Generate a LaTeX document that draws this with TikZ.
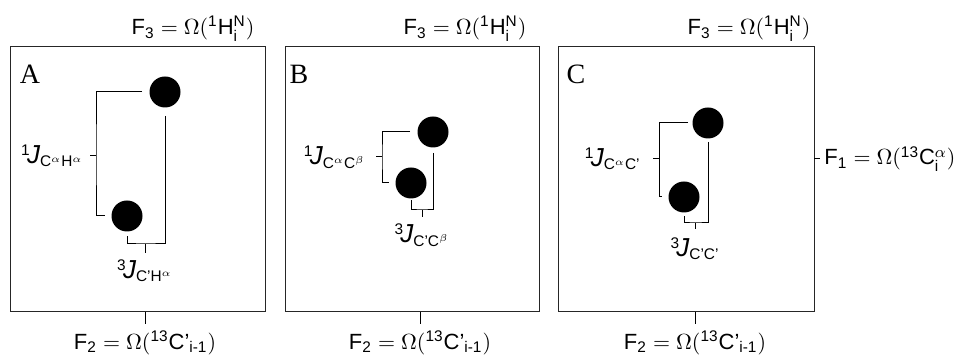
\documentclass[tikz,border=0pt]{standalone}
\usepackage{amsmath}
\usepackage{fontspec}
\setmainfont{Liberation Sans}
\newfontfamily\panelfont{Liberation Serif}
\usepackage{tikz}
\usetikzlibrary{positioning, calc}

\newcommand{\bigJ}{\text{\fontsize{13}{15}\selectfont\itshape J}}

\begin{document}
\begin{tikzpicture}[x=0.5pt, y=-0.5pt,
    panel/.style={draw=black!85, line width=0.5pt},
    peak/.style={circle, fill=black, inner sep=0pt, minimum size=15.5pt},
    link/.style={line width=0.5pt},
    axislabel/.style={font=\fontsize{11}{13}\selectfont, inner sep=1pt},
    jlabel/.style={font=\fontsize{11}{13}\selectfont, inner sep=1pt},
    letter/.style={font=\panelfont\fontsize{14}{16}\selectfont, inner sep=0pt}]
  \useasboundingbox (0,0) rectangle (956,356);

  % panel A
  \draw[panel] (10,47) rectangle (265,312);
  \node[letter] (letA) at (30,74) {A};
  \node[axislabel] (f3A) at (193,29) {$\mathrm{F}_{\mathrm{3}} = \Omega(^{\mathrm{1}}\mathrm{H}^{\mathrm{N}}_{\mathrm{i}})$};
  \draw[link] (145,312) -- (145,324) coordinate (f2tA);
  \node[axislabel, below=2pt of f2tA] (f2A) {$\mathrm{F}_{\mathrm{2}} = \Omega(^{\mathrm{13}}\mathrm{C}\text{'}_{\mathrm{i}\text{-}\mathrm{1}})$};
  \node[peak] (a1) at (165,92) {};
  \node[peak] (a2) at (127,216) {};
  \draw[link] ($(a1.west)+(-7,0)$) -| (96,156) |- ($(a2.west)+(-6,0)$);
  \draw[link] (96,156) -- (90,156) coordinate (j1A);
  \node[jlabel, left=2pt of j1A] (lab1A) {$^{\mathrm{1}}\!\bigJ_{\mathrm{C}^{\alpha}\mathrm{H}^{\alpha}}$};
  \draw[link] ($(a1.south)+(0,8)$) |- (145,244) -| ($(a2.south)+(0,4)$);
  \draw[link] (145,244) -- (145,253) coordinate (j3A);
  \node[jlabel, below=2pt of j3A] (lab3A) {$^{\mathrm{3}}\!\bigJ_{\mathrm{C}\text{'}\mathrm{H}^{\alpha}}$};

  % panel B
  \draw[panel] (285,47) rectangle (539,312);
  \node[letter] (letB) at (299,74) {B};
  \node[axislabel] (f3B) at (465,29) {$\mathrm{F}_{\mathrm{3}} = \Omega(^{\mathrm{1}}\mathrm{H}^{\mathrm{N}}_{\mathrm{i}})$};
  \draw[link] (420,312) -- (420,324) coordinate (f2tB);
  \node[axislabel, below=2pt of f2tB] (f2B) {$\mathrm{F}_{\mathrm{2}} = \Omega(^{\mathrm{13}}\mathrm{C}\text{'}_{\mathrm{i}\text{-}\mathrm{1}})$};
  \node[peak] (b1) at (433,132) {};
  \node[peak] (b2) at (411,183) {};
  \draw[link] ($(b1.west)+(-7,0)$) -| (382,157) |- ($(b2.west)+(-6,0)$);
  \draw[link] (382,157) -- (376,157) coordinate (j1B);
  \node[jlabel, left=4pt of j1B] (lab1B) {$^{\mathrm{1}}\!\bigJ_{\mathrm{C}^{\alpha}\mathrm{C}^{\beta}}$};
  \draw[link] ($(b1.south)+(0,5)$) |- (422,210) -| ($(b2.south)+(0,1)$);
  \draw[link] (422,210) -- (422,217) coordinate (j3B);
  \node[jlabel, below=2pt of j3B] (lab3B) {$^{\mathrm{3}}\!\bigJ_{\mathrm{C}\text{'}\mathrm{C}^{\beta}}$};

  % panel C
  \draw[panel] (558,47) rectangle (814,312);
  \node[letter] (letC) at (576,74) {C};
  \node[axislabel] (f3C) at (749,29) {$\mathrm{F}_{\mathrm{3}} = \Omega(^{\mathrm{1}}\mathrm{H}^{\mathrm{N}}_{\mathrm{i}})$};
  \draw[link] (695,312) -- (695,324) coordinate (f2tC);
  \node[axislabel, below=2pt of f2tC] (f2C) {$\mathrm{F}_{\mathrm{2}} = \Omega(^{\mathrm{13}}\mathrm{C}\text{'}_{\mathrm{i}\text{-}\mathrm{1}})$};
  \draw[link] (814,159) -- (820,159) coordinate (f1t);
  \node[axislabel, right=1pt of f1t] (f1) {$\mathrm{F}_{\mathrm{1}} = \Omega(^{\mathrm{13}}\mathrm{C}^{\alpha}_{\mathrm{i}})$};
  \node[peak] (c1) at (708,123) {};
  \node[peak] (c2) at (684,197) {};
  \draw[link] ($(c1.west)+(-4,0)$) -| (659,159) |- ($(c2.west)+(-6,0)$);
  \draw[link] (659,159) -- (653,159) coordinate (j1C);
  \node[jlabel, left=5pt of j1C] (lab1C) {$^{\mathrm{1}}\!\bigJ_{\mathrm{C}^{\alpha}\mathrm{C}\text{'}}$};
  \draw[link] ($(c1.south)+(0,3)$) |- (695,223) -| ($(c2.south)+(0,3)$);
  \draw[link] (695,223) -- (695,229) coordinate (j3C);
  \node[jlabel, below=3pt of j3C] (lab3C) {$^{\mathrm{3}}\!\bigJ_{\mathrm{C}\text{'}\mathrm{C}\text{'}}$};
\end{tikzpicture}
\end{document}
